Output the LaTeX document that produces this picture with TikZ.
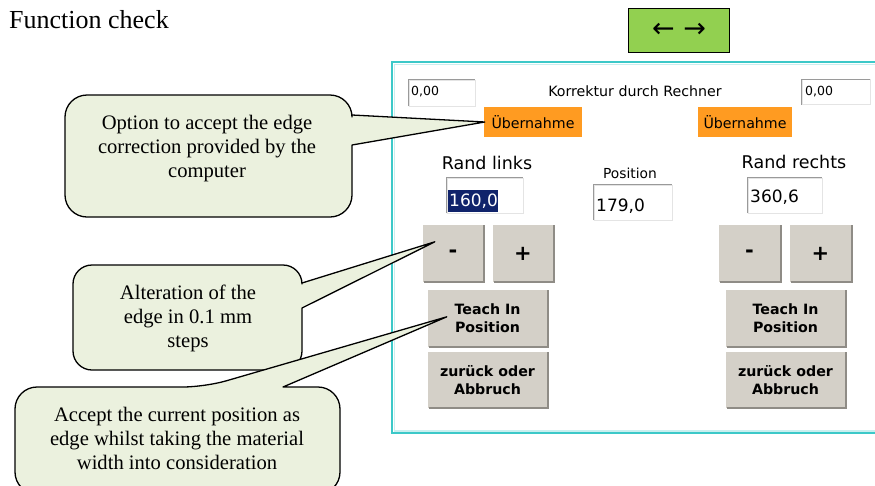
\documentclass[tikz,border=0pt]{standalone}
\usepackage{fontspec}
\setmainfont{Liberation Serif}
\newfontfamily\uifont{DejaVu Sans}
\usetikzlibrary{calc}
\definecolor{calloutfill}{HTML}{EBF1DE}
\definecolor{btnfill}{HTML}{D4D0C8}
\definecolor{btndark}{HTML}{8F8C86}
\definecolor{uiorange}{HTML}{FF9B21}
\definecolor{uigreen}{HTML}{92D050}
\definecolor{uiteal}{HTML}{3CC8C8}
\definecolor{uitealL}{HTML}{C9EFEF}
\definecolor{selnavy}{HTML}{10236B}
\definecolor{fieldedge}{HTML}{9A9A9A}
\definecolor{fieldlight}{HTML}{E4E4E4}
\tikzset{
  callout/.style={draw=black, line width=1.3pt, fill=calloutfill, line join=round},
  ctext/.style={font=\fontsize{20.6pt}{24pt}\selectfont, align=center, inner sep=0pt},
  fieldbox/.style={draw=fieldlight, line width=0.8pt, fill=white, inner sep=0pt},
  fieldtxt/.style={font=\uifont\fontsize{12.5pt}{14pt}\selectfont, inner sep=0pt, anchor=west},
  valtxt/.style={font=\uifont\fontsize{17pt}{20pt}\selectfont, inner sep=0pt, anchor=west},
  labeltxt/.style={font=\uifont\fontsize{17.5pt}{20pt}\selectfont, inner sep=0pt},
  btn/.style={fill=btnfill, draw=none, inner sep=0pt, align=center,
     font=\uifont\bfseries\fontsize{14.2pt}{18pt}\selectfont},
  signbtn/.style={btn, font=\uifont\bfseries\fontsize{21pt}{22pt}\selectfont,
     minimum width=60pt, minimum height=57pt},
  wbtn/.style={btn, minimum width=119pt, minimum height=56pt},
  orangebtn/.style={fill=uiorange, inner sep=0pt, minimum width=96pt, minimum height=30pt,
     font=\uifont\fontsize{14.2pt}{16pt}\selectfont},
  shade/.style={draw=btndark, line width=1.6pt},
}
\newcommand{\btnshade}[1]{%
  \draw[white, line width=1pt] (#1.south west) -- (#1.north west) -- (#1.north east);
  \draw[shade] ($(#1.south west)+(0.8,0)$) -- ($(#1.south east)+(0.8,0)$) -- ($(#1.north east)+(0.8,0)$);}
\newcommand{\fieldedge}[1]{%
  \draw[fieldedge, line width=1pt] (#1.south west) -- (#1.north west) -- (#1.north east);}
\begin{document}
\begin{tikzpicture}[x=1pt,y=-1pt]
\useasboundingbox (0,0) rectangle (875,485);
\begin{scope}
\clip (0,0) rectangle (875,485);
\fill[white] (0,0) rectangle (875,485);

% title
\node[anchor=base west, inner sep=0pt, font=\fontsize{26pt}{30pt}\selectfont] (title) at (9,28) {Function check};

% green arrow button
\node[draw=black, line width=1.4pt, fill=uigreen, minimum width=101pt, minimum height=44pt,
      inner sep=0pt, font=\uifont\fontsize{27pt}{28pt}\selectfont] (arrows) at (679,30.5) {← →};

% panel frame
\draw[uitealL, line width=1.5pt] (394.5,64.5) rectangle (890,431);
\draw[uiteal, line width=2.2pt] (392,62) rectangle (890,433);

% top fields
\node[fieldbox, minimum width=66pt, minimum height=26pt] (fL) at (442,93) {};
\fieldedge{fL}
\node[fieldtxt] (fLt) at (411,92) {0,00};
\node[fieldbox, minimum width=68pt, minimum height=25pt] (fR) at (836,92) {};
\fieldedge{fR}
\node[fieldtxt] (fRt) at (805,92) {0,00};
\node[inner sep=0pt, font=\uifont\fontsize{14.2pt}{16pt}\selectfont] (korr) at (635,91) {Korrektur durch Rechner};

% orange buttons
\node[orangebtn, minimum width=98pt] (uebL) at (533,122) {Übernahme};
\node[orangebtn, minimum width=94pt] (uebR) at (745,122) {Übernahme};

% labels
\node[labeltxt] (randL) at (487,163) {Rand links};
\node[inner sep=0pt, font=\uifont\fontsize{13.8pt}{16pt}\selectfont] (pos) at (630,173) {Position};
\node[labeltxt] (randR) at (794,162) {Rand rechts};

% value fields
\node[fieldbox, minimum width=76pt, minimum height=35pt] (vL) at (485,195.5) {};
\fieldedge{vL}
\fill[selnavy] (448,190) rectangle (498,212);
\node[valtxt, text=white] (vLt) at (449,201) {160,0};
\node[fieldbox, minimum width=78pt, minimum height=35pt] (vP) at (633,202.5) {};
\fieldedge{vP}
\node[valtxt] (vPt) at (596,206) {179,0};
\node[fieldbox, minimum width=74pt, minimum height=35pt] (vR) at (785,195.5) {};
\fieldedge{vR}
\node[valtxt] (vRt) at (750,197) {360,6};

% left buttons
\node[signbtn] (mL) at (453,253.5) {-};
\node[signbtn] (pL) at (523,253.5) {+};
\node[wbtn, minimum height=57pt] (tL) at (487.5,318.5) {Teach In\\Position};
\node[wbtn] (zL) at (487.5,380) {zurück oder\\Abbruch};
% right buttons
\node[signbtn, minimum width=61pt] (mR) at (749.5,253.5) {-};
\node[signbtn, minimum width=61pt] (pR) at (820.5,253.5) {+};
\node[wbtn, minimum height=57pt] (tR) at (785.5,318.5) {Teach In\\Position};
\node[wbtn] (zR) at (785.5,380) {zurück oder\\Abbruch};
\btnshade{mL}\btnshade{pL}\btnshade{tL}\btnshade{zL}
\btnshade{mR}\btnshade{pR}\btnshade{tR}\btnshade{zR}

% callout tips
\coordinate (tip1) at ($(uebL.west)+(1,0)$);
\coordinate (tip2) at ($(mL.north west)+(12,17)$);
\coordinate (tip3) at ($(tL.north west)+(19,27)$);

% callout 1
\draw[callout] (65,156) [rounded corners=22pt] -- (65,95) -- (352,95) [sharp corners] -- (352,115)
   -- (tip1) -- (352,145) [rounded corners=22pt] -- (352,217) -- (65,217) -- cycle;
\node[ctext] (c1) at (207,149) {Option to accept the edge\\correction provided by the\\computer};

% callout 2
\draw[callout] (73,318) [rounded corners=19pt] -- (73,265) -- (302,265) [sharp corners] -- (302,283)
   -- (tip2) -- (302,308) [rounded corners=19pt] -- (302,370) -- (73,370) -- cycle;
\node[ctext] (c2) at (188,318) {Alteration of the\\edge in 0.1 mm\\steps};

% callout 3
\draw[callout] (15,440) [rounded corners=22pt] -- (15,387) -- (205,387) [sharp corners]
   -- (tip3) -- (283,387) [rounded corners=22pt] -- (340,387) -- (340,494) -- (15,494) -- cycle;
\node[ctext] (c3) at (177,438) {Accept the current position as\\edge whilst taking the material\\width into consideration};
\end{scope}
\end{tikzpicture}
\end{document}
